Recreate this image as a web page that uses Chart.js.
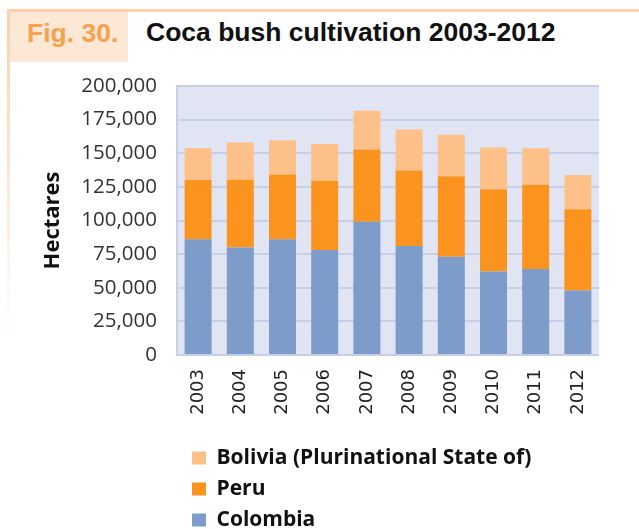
<!DOCTYPE html>
<html><head><meta charset="utf-8">
<script src="https://cdn.jsdelivr.net/npm/chart.js@4"></script>
<style>
html,body{margin:0;padding:0;background:#fff;}
#wrap{position:relative;width:639px;height:529px;overflow:hidden;}
#frameTop{position:absolute;left:7px;top:9px;width:632px;height:3px;background:#fdd1aa;}
#frameLeft{position:absolute;left:7px;top:9px;width:3px;height:330px;background:linear-gradient(#fdd1aa,#fdd6b3 15%,rgba(253,214,179,0));}
#figBox{position:absolute;left:10px;top:12px;width:118px;height:50px;background:#fde7d5;}
.hd{position:absolute;font-family:"Liberation Sans",Arial,sans-serif;font-weight:bold;font-size:26.5px;line-height:26.5px;white-space:nowrap;}
#fig{left:27px;top:19.5px;color:#f7a24f;}
#ttl{left:146px;top:19px;color:#111;}
canvas{position:absolute;left:0;top:0;}
</style></head>
<body><div id="wrap">
<div id="frameTop"></div><div id="frameLeft"></div><div id="figBox"></div>
<div class="hd" id="fig">Fig. 30.</div><div class="hd" id="ttl">Coca bush cultivation 2003-2012</div>
<canvas id="c" width="639" height="529"></canvas>
</div>
<script>
const years = ['2003','2004','2005','2006','2007','2008','2009','2010','2011','2012'];
const colombia = [86000, 80000, 86000, 78000, 99000, 81000, 73000, 62000, 64000, 48000];
const peru     = [44200, 50300, 48200, 51400, 53700, 56100, 59900, 61200, 62500, 60400];
const bolivia  = [23600, 27700, 25400, 27500, 28900, 30500, 30900, 31000, 27200, 25300];
const seriesNames = ['Colombia', 'Peru', 'Bolivia (Plurinational State of)'];
const yTickValues = [0, 25000, 50000, 75000, 100000, 125000, 150000, 175000, 200000];
const yTitle = 'Hectares';

const plotBg = {
  id: 'plotBg',
  beforeDraw(chart) {
    const {ctx, chartArea} = chart;
    ctx.save();
    ctx.fillStyle = '#e0e4f3';
    ctx.fillRect(chartArea.left, chartArea.top, chartArea.right - chartArea.left, chartArea.bottom - chartArea.top);
    ctx.restore();
  }
};

// Legend is laid out as a vertical list placed beneath the x axis
const legendLayout = {
  id: 'legendLayout',
  beforeLayout(chart) {
    const lg = chart.legend;
    if (lg && !lg._patched) {
      const f = lg.fit;
      lg.fit = function() { f.call(this); this.width = 0; };
      lg._patched = true;
    }
  },
  afterLayout(chart) {
    const lg = chart.legend;
    if (lg) {
      lg.left = 182; lg.right = 639;
      lg.top = 437.5; lg.bottom = 560;
      lg.width = lg.right - lg.left; lg.height = lg.bottom - lg.top;
    }
  }
};

new Chart(document.getElementById('c'), {
  type: 'bar',
  data: {
    labels: years,
    datasets: [
      {label: seriesNames[0], data: colombia, backgroundColor: '#7e9cca', borderWidth: 0},
      {label: seriesNames[1], data: peru, backgroundColor: '#fb941f', borderWidth: 0},
      {label: seriesNames[2], data: bolivia, backgroundColor: '#fdc089', borderWidth: 0}
    ]
  },
  options: {
    responsive: false,
    animation: false,
    devicePixelRatio: 1,
    categoryPercentage: 1,
    barPercentage: 0.64,
    layout: {padding: {top: 86, right: 40, bottom: 91.5, left: 0}},
    plugins: {
      title: {display: false},
      tooltip: {enabled: false},
      legend: {
        display: true,
        position: 'right',
        align: 'start',
        fullSize: false,
        reverse: true,
        labels: {
          boxWidth: 14,
          boxHeight: 13,
          padding: 10,
          color: '#111',
          font: {family: 'Open Sans', weight: 'bold', size: 21}
        }
      }
    },
    scales: {
      x: {
        stacked: true,
        afterFit(s) { s.height = 82.5; },
        grid: {display: false, drawTicks: false},
        border: {display: false},
        ticks: {
          maxRotation: 90, minRotation: 90, autoSkip: false, padding: 14,
          color: '#222', font: {family: 'DejaVu Sans', size: 18}
        }
      },
      y: {
        stacked: true,
        min: 0, max: 200000,
        afterFit(s) { s.width = 177; },
        afterBuildTicks(s) { s.ticks = yTickValues.map(v => ({value: v})); },
        grid: {color: '#c7cee5', lineWidth: 2, drawTicks: false},
        border: {display: true, color: '#c7cee5', width: 2},
        ticks: {
          padding: 20, color: '#333',
          font: {family: 'Open Sans', size: 20.5},
          callback: v => v.toLocaleString('en-US')
        },
        title: {
          display: true, text: yTitle, color: '#111',
          font: {family: 'Open Sans', weight: 'bold', size: 22},
          padding: {top: 40, bottom: 0}
        }
      }
    }
  },
  plugins: [plotBg, legendLayout]
});
</script>
</body></html>
